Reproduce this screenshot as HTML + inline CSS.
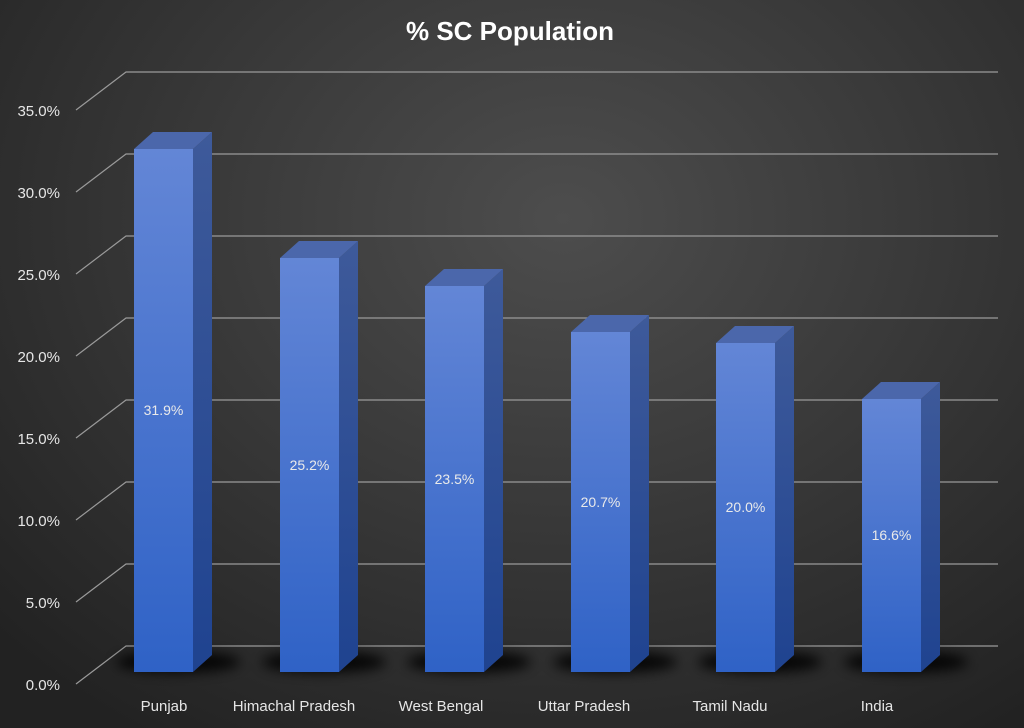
<!DOCTYPE html>
<html><head><meta charset="utf-8"><style>
html,body{margin:0;padding:0;width:1024px;height:728px;overflow:hidden}
body{background:radial-gradient(ellipse 75% 85% at 55% 30%,#4d4d4d 0%,#3a3a3a 45%,#222 100%);font-family:"Liberation Sans",sans-serif}
</style></head><body>
<svg width="1024" height="728" xmlns="http://www.w3.org/2000/svg" style="position:absolute;left:0;top:0">
<defs>
<linearGradient id="fr" x1="0" y1="0" x2="0" y2="1"><stop offset="0" stop-color="#6386d6"/><stop offset="1" stop-color="#2f62c6"/></linearGradient>
<linearGradient id="sd" x1="0" y1="0" x2="0" y2="1"><stop offset="0" stop-color="#3e5a9a"/><stop offset="1" stop-color="#1f4390"/></linearGradient>
<filter id="bl" x="-50%" y="-100%" width="200%" height="300%"><feGaussianBlur stdDeviation="6"/></filter>
</defs>
<text x="510" y="40" fill="#fff" font-size="26" font-weight="bold" text-anchor="middle" font-family="Liberation Sans, sans-serif">% SC Population</text>
<g stroke="#9a9a9a" stroke-width="1.2" fill="none">
<path d="M76 684L126 646H998M76 602L126 564H998M76 520L126 482H998M76 438L126 400H998M76 356L126 318H998M76 274L126 236H998M76 192L126 154H998M76 110L126 72H998"/>
</g>
<g fill="#e6e6e6" font-size="15" text-anchor="end" font-family="Liberation Sans, sans-serif">
<text x="60" y="690">0.0%</text><text x="60" y="608">5.0%</text><text x="60" y="526">10.0%</text><text x="60" y="444">15.0%</text><text x="60" y="362">20.0%</text><text x="60" y="280">25.0%</text><text x="60" y="198">30.0%</text><text x="60" y="116">35.0%</text>
</g>
<g fill="#000" opacity="0.85" filter="url(#bl)">
<ellipse cx="178" cy="662" rx="62" ry="11"/><ellipse cx="324" cy="662" rx="62" ry="11"/><ellipse cx="469" cy="662" rx="62" ry="11"/><ellipse cx="615" cy="662" rx="62" ry="11"/><ellipse cx="760" cy="662" rx="62" ry="11"/><ellipse cx="906" cy="662" rx="62" ry="11"/>
</g>
<g>
<polygon points="193,149 212,132 212,655 193,672" fill="url(#sd)"/><polygon points="134,149 153,132 212,132 193,149" fill="#4b67ab"/><rect x="134" y="149" width="59" height="523" fill="url(#fr)"/>
<polygon points="339,258 358,241 358,655 339,672" fill="url(#sd)"/><polygon points="280,258 299,241 358,241 339,258" fill="#4b67ab"/><rect x="280" y="258" width="59" height="414" fill="url(#fr)"/>
<polygon points="484,286 503,269 503,655 484,672" fill="url(#sd)"/><polygon points="425,286 444,269 503,269 484,286" fill="#4b67ab"/><rect x="425" y="286" width="59" height="386" fill="url(#fr)"/>
<polygon points="630,332 649,315 649,655 630,672" fill="url(#sd)"/><polygon points="571,332 590,315 649,315 630,332" fill="#4b67ab"/><rect x="571" y="332" width="59" height="340" fill="url(#fr)"/>
<polygon points="775,343 794,326 794,655 775,672" fill="url(#sd)"/><polygon points="716,343 735,326 794,326 775,343" fill="#4b67ab"/><rect x="716" y="343" width="59" height="329" fill="url(#fr)"/>
<polygon points="921,399 940,382 940,655 921,672" fill="url(#sd)"/><polygon points="862,399 881,382 940,382 921,399" fill="#4b67ab"/><rect x="862" y="399" width="59" height="273" fill="url(#fr)"/>
</g>
<g fill="#eaeaea" font-size="14" text-anchor="middle" font-family="Liberation Sans, sans-serif">
<text x="163.5" y="415">31.9%</text><text x="309.5" y="470">25.2%</text><text x="454.5" y="484">23.5%</text><text x="600.5" y="507">20.7%</text><text x="745.5" y="512">20.0%</text><text x="891.5" y="540">16.6%</text>
</g>
<g fill="#e6e6e6" font-size="15" text-anchor="middle" font-family="Liberation Sans, sans-serif">
<text x="164" y="711">Punjab</text><text x="294" y="711">Himachal Pradesh</text><text x="441" y="711">West Bengal</text><text x="584" y="711">Uttar Pradesh</text><text x="730" y="711">Tamil Nadu</text><text x="877" y="711">India</text>
</g>
</svg>
</body></html>
